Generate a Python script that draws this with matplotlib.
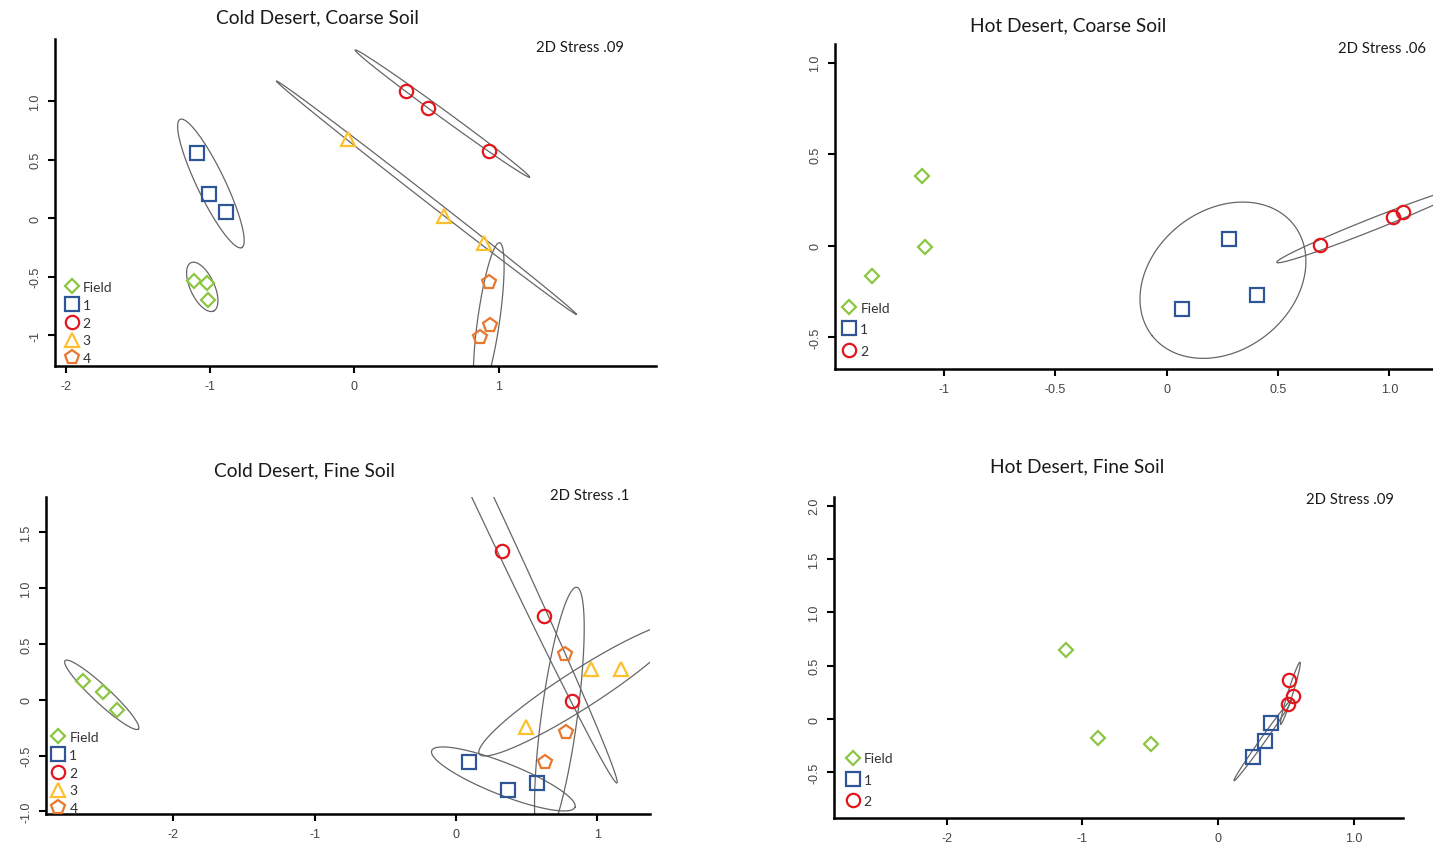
"""Four NMDS panels (cold/hot desert x coarse/fine soil) with group ellipses."""

import matplotlib

matplotlib.use("Agg")
import matplotlib.pyplot as plt  # noqa: E402
import numpy as np  # noqa: E402
from matplotlib.lines import Line2D  # noqa: E402

W, H = 1433, 853
GROUPS = ("Field", "1", "2", "3", "4")

# ---- data ----------------------------------------------------------------
# Cold desert, coarse soil
cc_x = {"Field": [-1.109, -1.021, -1.014], "1": [-1.09, -1.006, -0.89],
        "2": [0.356, 0.51, 0.935], "3": [-0.043, 0.625, 0.90],
        "4": [0.935, 0.94, 0.87]}
cc_y = {"Field": [-0.536, -0.55, -0.698], "1": [0.556, 0.208, 0.057],
        "2": [1.085, 0.946, 0.575], "3": [0.675, 0.02, -0.21],
        "4": [-0.54, -0.91, -1.01]}
# ellipses: major-axis tips (data) and half-width in pixels
cc_ell = [((0.006, 1.439), (1.214, 0.353), 4),
          ((-0.54, 1.174), (1.539, -0.82), 3.5),
          ((-1.207, 0.846), (-0.78, -0.25), 14),
          ((-1.132, -0.379), (-0.975, -0.792), 12),
          ((1.007, -0.208), (0.857, -1.519), 11)]

# Hot desert, coarse soil
hc_x = {"Field": [-1.10, -1.086, -1.324], "1": [0.280, 0.404, 0.067],
        "2": [0.689, 1.015, 1.060]}
hc_y = {"Field": [0.38, -0.007, -0.166], "1": [0.037, -0.268, -0.346],
        "2": [0.004, 0.155, 0.183]}
hc_ell = [((0.571, 0.114), (-0.066, -0.491), 70),
          ((0.494, -0.091), (1.348, 0.322), 6)]

# Cold desert, fine soil
cf_x = {"Field": [-2.637, -2.496, -2.401], "1": [0.094, 0.37, 0.575],
        "2": [0.323, 0.623, 0.819], "3": [0.495, 0.953, 1.168],
        "4": [0.771, 0.776, 0.630]}
cf_y = {"Field": [0.170, 0.072, -0.092], "1": [-0.561, -0.806, -0.746],
        "2": [1.33, 0.753, -0.009], "3": [-0.247, 0.275, 0.275],
        "4": [0.41, -0.287, -0.561]}
cf_ell = [((-2.767, 0.350), (-2.248, -0.262), 8.5),
          ((-0.172, -0.456), (0.842, -0.964), 16),
          ((1.139, -0.746), (-0.855, 4.63), 10),
          ((0.165, -0.487), (1.591, 0.673), 19),
          ((0.854, 1.007), (0.609, -1.299), 18)]

# Hot desert, fine soil
hf_x = {"Field": [-1.12, -0.884, -0.494], "1": [0.388, 0.346, 0.256],
        "2": [0.523, 0.555, 0.518]}
hf_y = {"Field": [0.647, -0.178, -0.234], "1": [-0.038, -0.203, -0.353],
        "2": [0.368, 0.218, 0.141]}
hf_ell = [((0.118, -0.578), (0.543, 0.182), 2.5),
          ((0.604, 0.532), (0.462, -0.048), 2.5)]

TITLES = ["Cold Desert, Coarse Soil", "Hot Desert, Coarse Soil",
          "Cold Desert, Fine Soil", "Hot Desert, Fine Soil"]
STRESS = ["2D Stress .09", "2D Stress .06", "2D Stress .1", "2D Stress .09"]

XTICKS = [[-2, -1, 0, 1], [-1, -0.5, 0, 0.5, 1.0], [-2, -1, 0, 1], [-2, -1, 0, 1.0]]
XLABELS = [["-2", "-1", "0", "1"], ["-1", "-0.5", "0", "0.5", "1.0"],
           ["-2", "-1", "0", "1"], ["-2", "-1", "0", "1.0"]]
YTICKS = [[-1, -0.5, 0, 0.5, 1.0], [-0.5, 0, 0.5, 1.0],
          [-1.0, -0.5, 0, 0.5, 1.0, 1.5], [-0.5, 0, 0.5, 1.0, 1.5, 2.0]]
YLABELS = [["-1", "-0.5", "0", "0.5", "1.0"], ["-0.5", "0", "0.5", "1.0"],
           ["-1.0", "-0.5", "0", "0.5", "1.0", "1.5"],
           ["-0.5", "0", "0.5", "1.0", "1.5", "2.0"]]

# ---- styling / layout ----------------------------------------------------
STYLE = {
    "Field": dict(marker="D", color="#8cc540", ms=6.9),
    "1": dict(marker="s", color="#2e5596", ms=9.4),
    "2": dict(marker="o", color="#e3161d", ms=9.6),
    "3": dict(marker="^", color="#fcc02e", ms=10.2),
    "4": dict(marker="p", color="#e8782f", ms=10.8),
}
# axes boxes in pixels: left, top, right, bottom
BOXES = [(55, 40, 656, 367), (835, 44.7, 1433, 369.7),
         (46, 498, 650, 815), (834, 498, 1403, 819)]
XLIMS = [(-2.074, 2.091), (-1.49, 1.196), (-2.902, 1.373), (-2.830, 1.363)]
YLIMS = [(-1.262, 1.533), (-0.672, 1.104), (-1.024, 1.816), (-0.928, 2.081)]
TITLE_XY = [(317, 18), (1068, 25.5), (304, 470.5), (1077.5, 466.5)]
STRESS_XY = [(536, 47.5), (1338.5, 49), (550, 496.5), (1306.5, 500)]
# legend: marker centre x, centre y of the last row, label spacing
LEG = [(71.7, 356.7, 0.42), (849.2, 349.0, 0.68), (58.3, 806.7, 0.42), (852.6, 799.3, 0.66)]

TITLE_FONT = "Lato"
TICK_FONT = "Liberation Sans"


def ellipse_path(ax, p1, p2, half_px):
    """Ellipse with major-axis tips p1/p2 (data) and a half-width in pixels."""
    tips = ax.transData.transform([p1, p2])
    c = tips.mean(axis=0)
    u = (tips[1] - tips[0]) / 2.0
    n = np.array([-u[1], u[0]]) / np.hypot(*u) * half_px
    t = np.linspace(0, 2 * np.pi, 300)
    pts = c + np.outer(np.cos(t), u) + np.outer(np.sin(t), n)
    return ax.transData.inverted().transform(pts)


def draw_panel(fig, i, xs, ys, ells):
    l, t, r, b = BOXES[i]
    ax = fig.add_axes([l / W, 1 - b / H, (r - l) / W, (b - t) / H])
    ax.set_xlim(*XLIMS[i])
    ax.set_ylim(*YLIMS[i])
    for side in ("top", "right"):
        ax.spines[side].set_visible(False)
    for side in ("left", "bottom"):
        ax.spines[side].set_linewidth(1.8)
    ax.set_xticks(XTICKS[i], XLABELS[i])
    ax.set_yticks(YTICKS[i], YLABELS[i])
    ax.tick_params(direction="out", length=5, width=1.5, labelsize=9,
                   labelcolor="#444444", pad=5)
    for lab in ax.get_xticklabels() + ax.get_yticklabels():
        lab.set_fontfamily(TICK_FONT)
    for lab in ax.get_yticklabels():
        lab.set_rotation(90)
        lab.set_va("center")

    for p1, p2, half in ells:
        pts = ellipse_path(ax, p1, p2, half)
        ax.plot(pts[:, 0], pts[:, 1], color="#666666", lw=0.9, zorder=2)

    handles, labels = [], []
    for g in GROUPS:
        if g not in xs:
            continue
        st = STYLE[g]
        ax.plot(xs[g], ys[g], ls="none", marker=st["marker"], ms=st["ms"],
                mfc="none", mec=st["color"], mew=1.6, zorder=3)
        handles.append(Line2D([], [], ls="none", marker=st["marker"], ms=st["ms"],
                              mfc="none", mec=st["color"], mew=1.6))
        labels.append(g)

    mx, my, spacing = LEG[i]
    leg = ax.legend(handles, labels, loc="lower left",
                    bbox_to_anchor=((mx - 7) / W, 1 - (my + 8.5) / H),
                    bbox_transform=fig.transFigure, frameon=False,
                    handlelength=1.0, handletextpad=0.3, borderpad=0,
                    borderaxespad=0, labelspacing=spacing,
                    prop={"family": TITLE_FONT, "size": 10})
    for txt in leg.get_texts():
        txt.set_color("#333333")

    tx, ty = TITLE_XY[i]
    fig.text(tx / W, 1 - ty / H, TITLES[i], ha="center", va="center",
             fontsize=13.8, family=TITLE_FONT, color="#1a1a1a")
    sx, sy = STRESS_XY[i]
    fig.text(sx / W, 1 - sy / H, STRESS[i], ha="left", va="center",
             fontsize=10.7, family=TITLE_FONT, color="#1a1a1a")
    return ax


def main():
    fig = plt.figure(figsize=(W / 100, H / 100), dpi=100)
    panels = [(cc_x, cc_y, cc_ell), (hc_x, hc_y, hc_ell),
              (cf_x, cf_y, cf_ell), (hf_x, hf_y, hf_ell)]
    for i, (xs, ys, ells) in enumerate(panels):
        draw_panel(fig, i, xs, ys, ells)
    fig.savefig("out.png", dpi=100)
    plt.close(fig)


if __name__ == "__main__":
    main()
